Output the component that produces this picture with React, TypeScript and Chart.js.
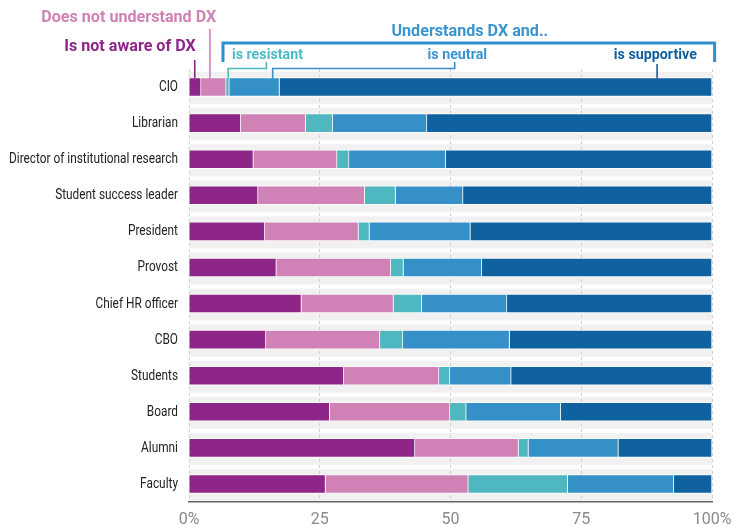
import React, { useEffect, useRef } from "react";
import { Chart, registerables } from "chart.js";

Chart.register(...registerables);

const categories = [
  "CIO",
  "Librarian",
  "Director of institutional research",
  "Student success leader",
  "President",
  "Provost",
  "Chief HR officer",
  "CBO",
  "Students",
  "Board",
  "Alumni",
  "Faculty",
];

const notAware = [2.3, 9.9, 12.3, 13.2, 14.5, 16.7, 21.5, 14.7, 29.6, 26.9, 43.2, 26.1];
const notUnderstand = [4.8, 12.4, 16.0, 20.4, 17.9, 21.9, 17.6, 21.8, 18.2, 23.0, 19.8, 27.3];
const resistant = [0.6, 5.2, 2.3, 5.9, 2.1, 2.4, 5.4, 4.4, 2.1, 3.1, 1.9, 19.0];
const neutral = [9.6, 18.0, 18.5, 12.9, 19.3, 15.0, 16.3, 20.4, 11.7, 18.1, 17.2, 20.3];
const supportive = [82.7, 54.5, 50.9, 47.6, 46.2, 44.0, 39.2, 38.7, 38.4, 28.9, 17.9, 7.3];

const seriesNames = [
  "Is not aware of DX",
  "Does not understand DX",
  "is resistant",
  "is neutral",
  "is supportive",
];
const groupTitle = "Understands DX and..";
const tickValues = [0, 25, 50, 75, 100];
const tickLabels = ["0%", "25", "50", "75", "100%"];

const COLORS = {
  purple: "#8e2589",
  pink: "#d081b6",
  teal: "#4fb7bf",
  blue: "#3590c8",
  dark: "#0f61a0",
};

const FONT = "Roboto, sans-serif";

function squeezeText(
  ctx: CanvasRenderingContext2D,
  text: string,
  x: number,
  y: number,
  align: CanvasTextAlign,
  f: number
) {
  ctx.save();
  ctx.translate(x, y);
  ctx.scale(f, 1);
  ctx.textAlign = align;
  ctx.textBaseline = "middle";
  ctx.fillText(text, 0, 0);
  ctx.restore();
}

const bandPlugin = {
  id: "bands",
  beforeDraw(chart: any) {
    const { ctx, chartArea } = chart;
    const y = chart.scales.y;
    ctx.save();
    ctx.fillStyle = "#f1f1f1";
    categories.forEach((_, i) => {
      const cy = y.getPixelForValue(i);
      ctx.fillRect(chartArea.left, cy - 15, chartArea.right - chartArea.left, 32);
    });
    ctx.restore();
  },
};

const labelPlugin = {
  id: "labels",
  afterDraw(chart: any) {
    const { ctx, chartArea } = chart;
    const y = chart.scales.y;
    ctx.save();
    ctx.font = `14px ${FONT}`;
    ctx.fillStyle = "#222";
    const f = Math.min(1, 169 / ctx.measureText(categories[2]).width);
    categories.forEach((c, i) => {
      squeezeText(ctx, c, chartArea.left - 11, y.getPixelForValue(i) + 0.5, "right", f);
    });
    ctx.restore();
  },
};

const headerPlugin = {
  id: "header",
  afterDraw(chart: any) {
    const { ctx } = chart;
    const x = chart.scales.x;
    const y = chart.scales.y;
    const px = (v: number) => x.getPixelForValue(v);
    const barTop = y.getPixelForValue(0) - 8.5;
    ctx.save();
    ctx.lineWidth = 1.6;
    ctx.lineCap = "butt";

    const line = (color: string, pts: number[][]) => {
      ctx.strokeStyle = color;
      ctx.beginPath();
      ctx.moveTo(pts[0][0], pts[0][1]);
      for (let i = 1; i < pts.length; i++) ctx.lineTo(pts[i][0], pts[i][1]);
      ctx.stroke();
    };

    line(COLORS.purple, [[px(1.1), 60], [px(1.1), barTop]]);
    line(COLORS.pink, [[px(4.0), 29], [px(4.0), barTop]]);
    line(COLORS.teal, [[px(7.5), barTop], [px(7.5), 68.5], [px(14.8), 68.5], [px(14.8), 62]]);
    line(COLORS.blue, [[px(16.0), barTop], [px(16.0), 68.5], [px(50.8), 68.5], [px(50.8), 62]]);
    line(COLORS.dark, [[px(89.5), 64], [px(89.5), barTop]]);

    ctx.lineWidth = 3;
    line("#2f8fd0", [[px(6.5), 62], [px(6.5), 43], [px(100.5), 43], [px(100.5), 62]]);

    ctx.font = `bold 17px ${FONT}`;
    const fBig = Math.min(1, 175 / ctx.measureText(seriesNames[1]).width);
    ctx.fillStyle = COLORS.pink;
    squeezeText(ctx, seriesNames[1], px(5.2), 18, "right", fBig);
    ctx.fillStyle = COLORS.purple;
    squeezeText(ctx, seriesNames[0], px(1.3), 47, "right", fBig);
    ctx.fillStyle = "#3a94d0";
    squeezeText(ctx, groupTitle, px(53.7), 32, "center", fBig);

    ctx.font = `bold 15px ${FONT}`;
    const fSmall = Math.min(1, 83 / ctx.measureText(seriesNames[4]).width);
    ctx.fillStyle = "#4cbcc4";
    squeezeText(ctx, seriesNames[2], px(8.2), 55, "left", fSmall);
    ctx.fillStyle = "#3a94d0";
    squeezeText(ctx, seriesNames[3], px(51.3), 55, "center", fSmall);
    ctx.fillStyle = "#0e5e9e";
    squeezeText(ctx, seriesNames[4], px(97.1), 55, "right", fSmall);
    ctx.restore();
  },
};

export default function App() {
  const ref = useRef<HTMLCanvasElement | null>(null);

  useEffect(() => {
    if (!ref.current) return;
    const values = [notAware, notUnderstand, resistant, neutral, supportive];
    const colors = [COLORS.purple, COLORS.pink, COLORS.teal, COLORS.blue, COLORS.dark];
    const chart = new Chart(ref.current, {
      type: "bar",
      data: {
        labels: categories,
        datasets: values.map((d, i) => ({
          label: seriesNames[i],
          data: d,
          backgroundColor: colors[i],
          borderColor: "rgba(255,255,255,0.85)",
          borderWidth: 1,
          borderSkipped: "start",
          barThickness: 19,
        })),
      },
      options: {
        indexAxis: "y",
        responsive: false,
        animation: false,
        layout: { padding: { top: 69, right: 19, left: 0, bottom: 0 } },
        plugins: { legend: { display: false }, tooltip: { enabled: false } },
        scales: {
          x: {
            stacked: true,
            min: 0,
            max: 100,
            afterBuildTicks: (scale: any) => {
              scale.ticks = tickValues.map((v) => ({ value: v }));
            },
            afterFit: (scale: any) => {
              scale.height = 23;
              scale.paddingLeft = 0;
              scale.paddingRight = 0;
            },
            ticks: {
              autoSkip: false,
              maxRotation: 0,
              padding: 8,
              color: "#8a8a8a",
              font: { family: FONT, size: 16 },
              callback: (_v: any, i: number) => tickLabels[i],
            },
            grid: {
              color: "#cfcfcf",
              lineWidth: 1,
              drawTicks: false,
            },
            border: { display: true, color: "#666", width: 1.5, dash: [3, 3] },
          },
          y: {
            stacked: true,
            afterFit: (scale: any) => {
              scale.width = 189;
            },
            grid: { display: false, drawTicks: false },
            border: { display: false },
            ticks: { display: false },
          },
        },
      },
      plugins: [bandPlugin, labelPlugin, headerPlugin],
    });
    return () => chart.destroy();
  }, []);

  return (
    <div
      style={{
        position: "fixed",
        left: 0,
        top: 0,
        width: 731,
        height: 525,
        background: "#fff",
      }}
    >
      <canvas ref={ref} width={731} height={525} />
    </div>
  );
}
